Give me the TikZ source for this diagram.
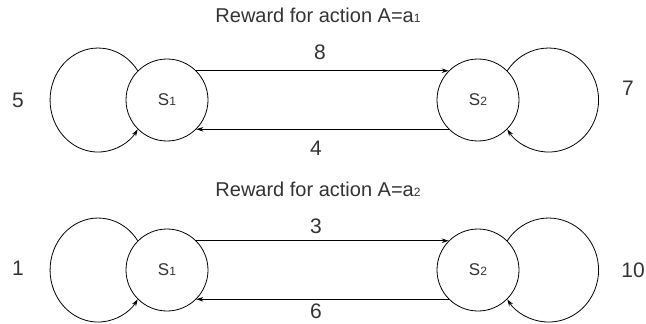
\documentclass[tikz,border=0pt]{standalone}
\usepackage{fontspec}
\setmainfont{Liberation Sans}
\usetikzlibrary{positioning,arrows.meta}

\tikzset{
  stnode/.style={draw, circle, minimum size=82pt, inner sep=0pt, line width=0.8pt, text=black!80,
    font=\fontsize{17}{17}\selectfont},
  trans/.style={-{Stealth[length=7pt,width=4.5pt]}, line width=0.8pt},
  rew/.style={inner sep=0pt, text=black!80, font=\fontsize{21}{21}\selectfont},
  ttl/.style={inner sep=0pt, text=black!80, font=\fontsize{20}{20}\selectfont}
}
\newcommand{\smallidx}[1]{{\fontsize{12}{12}\selectfont #1}}

\begin{document}
\begin{tikzpicture}[x=1pt,y=-1pt]
    \useasboundingbox (0,0) rectangle (646,324);

    % action a1
    \draw (318,15) node [ttl] (title a1) {Reward for action A=a\smallidx{1}};
    \draw (167,100) node [stnode] (s1 a1) {S\smallidx{1}};
    \draw (478,100) node [stnode] (s2 a1) {S\smallidx{2}};
    \draw (18,100) node [rew] (r11 a1) {5};
    \draw (628,88) node [rew] (r22 a1) {7};
    \draw (320,52) node [rew] (r12 a1) {8};
    \draw (316,148) node [rew] (r21 a1) {4};

    \draw[trans] (s1 a1.north east) -- (s2 a1.north west);
    \draw[trans] (s2 a1.south west) -- (s1 a1.south east);
    \draw[trans] (s1 a1.135) arc[start angle=34.3, end angle=325.7, x radius=48pt, y radius=52pt];
    \draw[trans] (s2 a1.45) arc[start angle=145.7, end angle=-145.7, x radius=50pt, y radius=52pt];

    % action a2
    \draw (318,189) node [ttl] (title a2) {Reward for action A=a\smallidx{2}};
    \draw (167,270) node [stnode] (s1 a2) {S\smallidx{1}};
    \draw (478,270) node [stnode] (s2 a2) {S\smallidx{2}};
    \draw (18,268) node [rew] (r11 a2) {1};
    \draw (633,270) node [rew] (r22 a2) {10};
    \draw (316,226) node [rew] (r12 a2) {3};
    \draw (316,311) node [rew] (r21 a2) {6};

    \draw[trans] (s1 a2.north east) -- (s2 a2.north west);
    \draw[trans] (s2 a2.south west) -- (s1 a2.south east);
    \draw[trans] (s1 a2.135) arc[start angle=34.3, end angle=325.7, x radius=48pt, y radius=52pt];
    \draw[trans] (s2 a2.45) arc[start angle=145.7, end angle=-145.7, x radius=50pt, y radius=52pt];
\end{tikzpicture}
\end{document}
